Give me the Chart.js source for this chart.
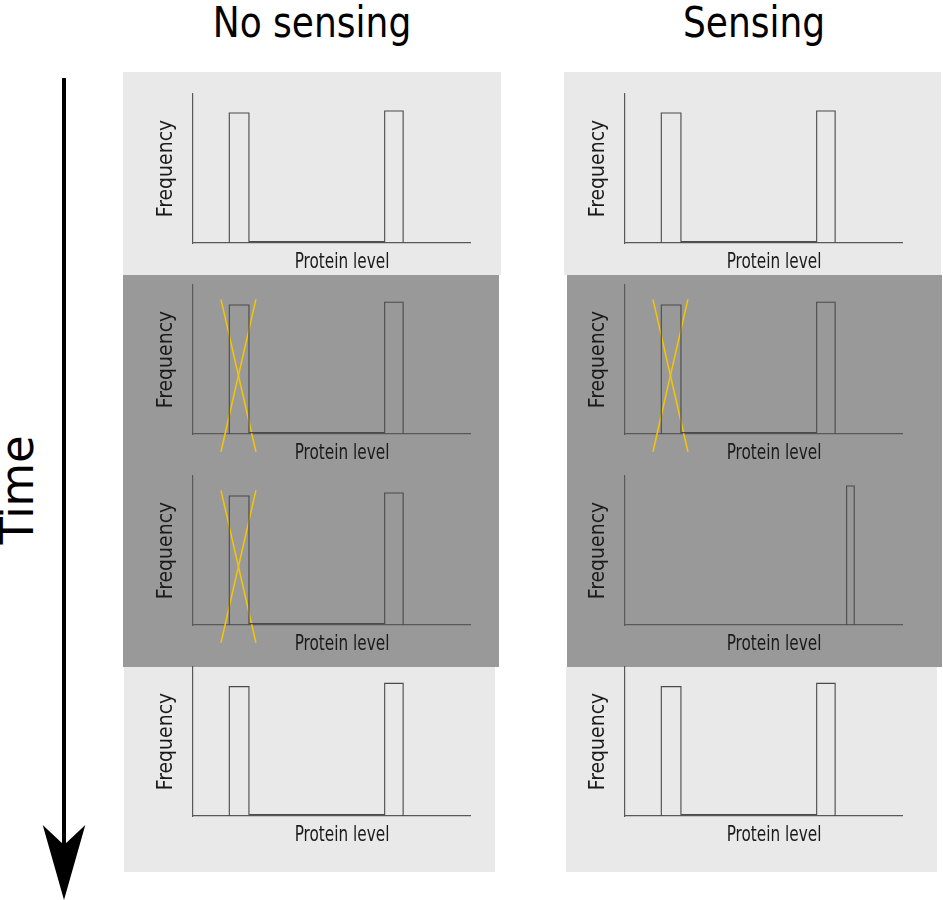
<!DOCTYPE html>
<html>
<head>
<meta charset="utf-8">
<script src="https://cdn.jsdelivr.net/npm/chart.js@4/dist/chart.umd.min.js"></script>
<style>
  html, body { margin: 0; padding: 0; background: #ffffff; }
  #page { position: relative; width: 943px; height: 900px; overflow: hidden; font-family: "DejaVu Sans Condensed", "DejaVu Sans", sans-serif; }
  .bg { position: absolute; }
  .light { background: #e9e9e9; }
  .dark { background: #999999; }
  .wrap { position: absolute; width: 378px; height: 200px; }
  .wrap canvas { display: block; }
  .head { position: absolute; top: 0px; height: 40px; line-height: 40px; font-size: 40px; color: #000; text-align: center; white-space: nowrap; transform: scaleY(1.08); transform-origin: 50% 0; }
  #time { position: absolute; width: 140px; height: 46px; line-height: 46px; font-size: 46px; text-align: center; color: #000;
          left: -53px; top: 467px; transform: rotate(-90deg) scaleX(1.08); transform-origin: 70px 23px; white-space: nowrap; }
</style>
</head>
<body>
<div id="page">
  <!-- panel backgrounds -->
  <div class="bg light" style="left:123px;top:72px;width:378px;height:203px"></div>
  <div class="bg dark"  style="left:123px;top:275px;width:376px;height:392px"></div>
  <div class="bg light" style="left:124px;top:667px;width:371px;height:205px"></div>
  <div class="bg light" style="left:564px;top:72px;width:377px;height:203px"></div>
  <div class="bg dark"  style="left:567px;top:275px;width:375px;height:392px"></div>
  <div class="bg light" style="left:566px;top:667px;width:371px;height:205px"></div>

  <div class="head" style="left:162px;width:300px">No sensing</div>
  <div class="head" style="left:604px;width:300px">Sensing</div>
  <div id="time">Time</div>

  <svg width="943" height="900" style="position:absolute;left:0;top:0">
    <rect x="62" y="78" width="4" height="768" fill="#000"></rect>
    <polygon points="42.7,825 64,900 85.3,825 64,845" fill="#000"></polygon>
  </svg>

  <div class="wrap" style="left:123px;top:72px"><canvas id="c00" width="378" height="200"></canvas></div>
  <div class="wrap" style="left:123px;top:263px"><canvas id="c10" width="378" height="200"></canvas></div>
  <div class="wrap" style="left:123px;top:454px"><canvas id="c20" width="378" height="200"></canvas></div>
  <div class="wrap" style="left:123px;top:645px"><canvas id="c30" width="378" height="200"></canvas></div>
  <div class="wrap" style="left:555px;top:72px"><canvas id="c01" width="378" height="200"></canvas></div>
  <div class="wrap" style="left:555px;top:263px"><canvas id="c11" width="378" height="200"></canvas></div>
  <div class="wrap" style="left:555px;top:454px"><canvas id="c21" width="378" height="200"></canvas></div>
  <div class="wrap" style="left:555px;top:645px"><canvas id="c31" width="378" height="200"></canvas></div>
</div>

<script>
// ---------- data (protein level in arbitrary units, frequency in %) ----------
const xAxisLabel = "Protein level";
const yAxisLabel = "Frequency";
const columnTitles = ["No sensing", "Sensing"];

// bin edges of the histogram for the bimodal populations
const bimodalEdges = [1.87, 2.86, 9.70, 10.63];
// frequencies per bin (low peak, gap, high peak)
const noSensingT1 = [87.2, 0.9, 88.6];
const noSensingT2 = [86.6, 0.9, 88.4];
const noSensingT3 = [86.6, 0.9, 88.6];
const noSensingT4 = [86.8, 1.0, 89.0];
const sensingT1   = [87.2, 0.9, 88.6];
const sensingT2   = [86.6, 0.9, 88.4];
const sensingT4   = [86.8, 1.0, 89.0];
// sensing, third time point: only a narrow high peak
const sensingT3Edges = [11.21, 11.59];
const sensingT3      = [93.3];

// crossing-out marks over the low peak (protein level, frequency)
const crossX = [1.45, 3.21];
const crossY = [90.4, -11.9];

const xRange = [0, 14];
const yRange = [0, 100];

// ---------- helpers ----------
function histogramPoints(edges, freq) {
  const pts = [{x: edges[0], y: 0}];
  for (let i = 0; i < freq.length; i++) pts.push({x: edges[i + 1], y: freq[i]});
  pts.push({x: edges[edges.length - 1], y: 0});
  return pts;
}

const FONT = '"DejaVu Sans Condensed", "DejaVu Sans", sans-serif';

const xLabelPlugin = {
  id: 'xLabel',
  afterDraw(chart, args, opts) {
    const {ctx, chartArea} = chart;
    const xs = chart.scales.x;
    ctx.save();
    ctx.font = '17px ' + FONT;
    ctx.fillStyle = '#1a1a1a';
    ctx.textAlign = 'center';
    ctx.textBaseline = 'middle';
    ctx.translate(xs.getPixelForValue(opts.at), chartArea.bottom + 20);
    ctx.scale(1, 1.2);
    ctx.fillText(opts.text, 0, 0);
    ctx.restore();
  }
};

function makeChart(id, edges, freq, crossed) {
  const datasets = [{
    data: histogramPoints(edges, freq),
    stepped: 'after',
    borderColor: '#4a4a4a',
    borderWidth: 1.1,
    pointRadius: 0,
    fill: false,
    clip: false
  }];
  if (crossed) {
    datasets.push({
      data: [{x: crossX[0], y: crossY[0]}, {x: crossX[1], y: crossY[1]}],
      borderColor: '#f6c400', borderWidth: 1.5, pointRadius: 0, fill: false, clip: false
    });
    datasets.push({
      data: [{x: crossX[1], y: crossY[0]}, {x: crossX[0], y: crossY[1]}],
      borderColor: '#f6c400', borderWidth: 1.5, pointRadius: 0, fill: false, clip: false
    });
  }
  return new Chart(document.getElementById(id), {
    type: 'line',
    data: { datasets },
    options: {
      responsive: false,
      animation: false,
      events: [],
      layout: { padding: { left: 31, right: 31, top: 22, bottom: 29 } },
      plugins: {
        legend: { display: false },
        tooltip: { enabled: false },
        xLabel: { text: xAxisLabel, at: 7.55 }
      },
      scales: {
        x: {
          type: 'linear', min: xRange[0], max: xRange[1],
          ticks: { display: false },
          grid: { display: false, drawTicks: false },
          border: { display: true, color: '#595959', width: 1.2 },
          title: { display: false }
        },
        y: {
          type: 'linear', min: yRange[0], max: yRange[1],
          ticks: { display: false },
          grid: { display: false, drawTicks: false },
          border: { display: true, color: '#595959', width: 1.2 },
          title: {
            display: true, text: yAxisLabel, color: '#1a1a1a',
            font: { family: FONT, size: 21 }, padding: { top: 0, bottom: 13 }
          }
        }
      }
    },
    plugins: [xLabelPlugin]
  });
}

makeChart('c00', bimodalEdges, noSensingT1, false);
makeChart('c10', bimodalEdges, noSensingT2, true);
makeChart('c20', bimodalEdges, noSensingT3, true);
makeChart('c30', bimodalEdges, noSensingT4, false);
makeChart('c01', bimodalEdges, sensingT1, false);
makeChart('c11', bimodalEdges, sensingT2, true);
makeChart('c21', sensingT3Edges, sensingT3, false);
makeChart('c31', bimodalEdges, sensingT4, false);
</script>
</body>
</html>
